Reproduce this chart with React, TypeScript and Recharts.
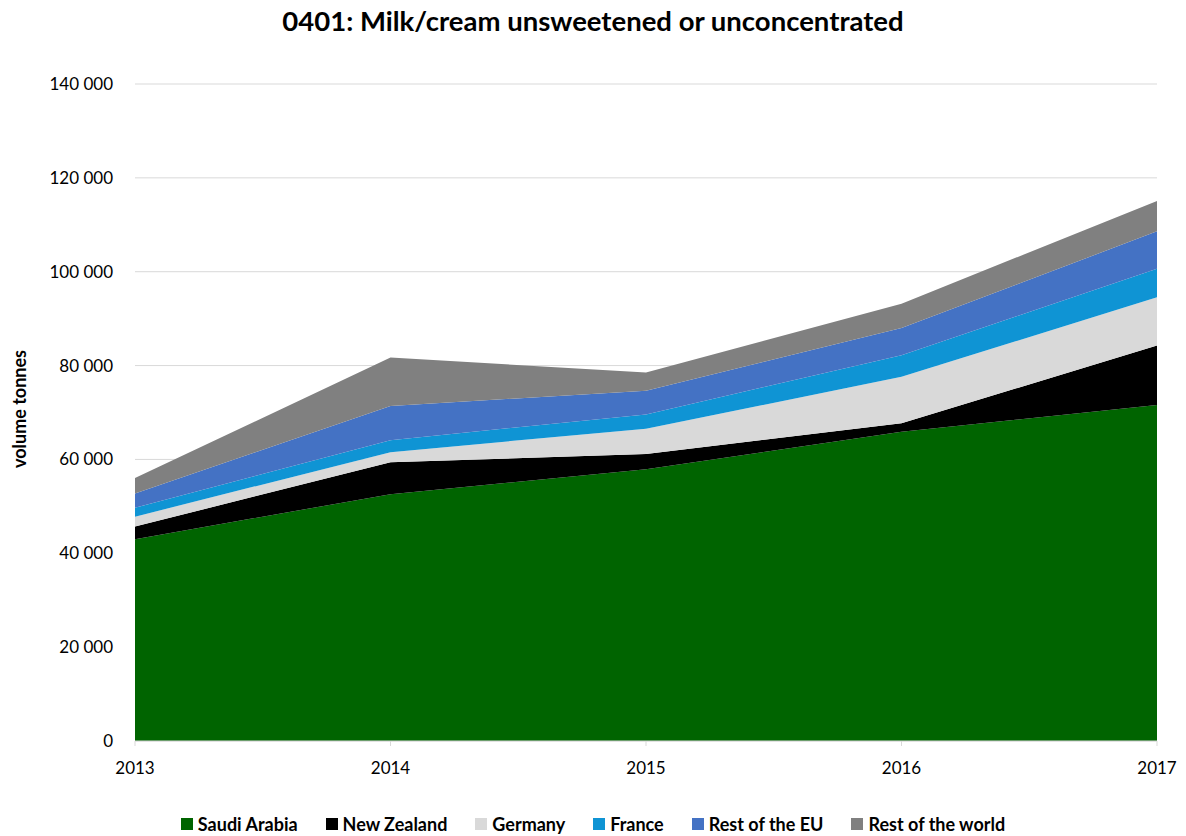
import React from 'react';
import {
  AreaChart,
  Area,
  XAxis,
  YAxis,
  CartesianGrid,
  Legend,
} from 'recharts';

const years = ['2013', '2014', '2015', '2016', '2017'];
const saudiArabia = [43000, 52600, 57900, 65900, 71600];
const newZealand = [2700, 6800, 3250, 1800, 12700];
const germany = [2100, 2150, 5400, 9900, 10250];
const france = [1900, 2550, 3050, 4600, 6100];
const restOfEU = [3050, 7300, 5050, 5800, 7950];
const restOfWorld = [3300, 10300, 3850, 5200, 6450];
const yTicks = [0, 20000, 40000, 60000, 80000, 100000, 120000, 140000];

const SERIES = [
  { key: 'sa', name: 'Saudi Arabia', values: saudiArabia, color: '#006400' },
  { key: 'nz', name: 'New Zealand', values: newZealand, color: '#000000' },
  { key: 'de', name: 'Germany', values: germany, color: '#d9d9d9' },
  { key: 'fr', name: 'France', values: france, color: '#0f94d4' },
  { key: 'eu', name: 'Rest of the EU', values: restOfEU, color: '#4472c4' },
  { key: 'rw', name: 'Rest of the world', values: restOfWorld, color: '#808080' },
];

const data = years.map((year, i) => {
  const row: Record<string, string | number> = { year };
  SERIES.forEach((s) => {
    row[s.key] = s.values[i];
  });
  return row;
});

const FONT = 'Lato, "DejaVu Sans", sans-serif';

const fmt = (v: number) =>
  String(v).replace(/\B(?=(\d{3})+(?!\d))/g, ' ');

const renderLegend = () => (
  <div
    style={{
      display: 'flex',
      justifyContent: 'center',
      gap: 28,
      fontFamily: FONT,
      fontWeight: 700,
      fontSize: 18,
      color: '#000',
      paddingTop: 4,
    }}
  >
    {SERIES.map((s) => (
      <div key={s.key} style={{ display: 'flex', alignItems: 'center' }}>
        <span
          style={{
            display: 'inline-block',
            width: 12,
            height: 12,
            background: s.color,
            marginRight: 5,
          }}
        />
        {s.name}
      </div>
    ))}
  </div>
);

export default function App() {
  return (
    <div
      style={{
        position: 'absolute',
        left: 0,
        top: 0,
        width: 1186,
        height: 836,
        background: '#fff',
      }}
    >
      <div
        style={{
          position: 'absolute',
          top: 4,
          left: 0,
          width: 1186,
          textAlign: 'center',
          fontFamily: FONT,
          fontWeight: 700,
          fontSize: 27.5,
          color: '#000',
        }}
      >
        0401: Milk/cream unsweetened or unconcentrated
      </div>
      <div
        style={{
          position: 'absolute',
          left: 19,
          top: 409,
          transform: 'translate(-50%, -50%) rotate(-90deg)',
          fontFamily: FONT,
          fontWeight: 700,
          fontSize: 18,
          whiteSpace: 'nowrap',
          color: '#000',
        }}
      >
        volume tonnes
      </div>
      <AreaChart
        width={1186}
        height={836}
        data={data}
        margin={{ top: 84, right: 29, bottom: 0, left: 65 }}
        style={{ position: 'absolute', left: 0, top: 0 }}
      >
        <CartesianGrid vertical={false} stroke="#d9d9d9" />
        <XAxis
          dataKey="year"
          stroke="#d9d9d9"
          tickLine={{ stroke: '#d9d9d9' }}
          tickSize={5}
          tick={{ fill: '#000', fontFamily: FONT, fontSize: 17, dy: 14 }}
          height={68}
        />
        <YAxis
          width={70}
          domain={[0, 140000]}
          ticks={yTicks}
          tickFormatter={fmt}
          axisLine={false}
          tickLine={false}
          tick={{ fill: '#000', fontFamily: FONT, fontSize: 17 }}
          tickMargin={16}
        />
        {SERIES.map((s) => (
          <Area
            key={s.key}
            type="linear"
            dataKey={s.key}
            name={s.name}
            stackId="1"
            stroke="none"
            fill={s.color}
            fillOpacity={1}
            isAnimationActive={false}
          />
        ))}
        <Legend
          verticalAlign="bottom"
          height={27}
          content={renderLegend}
          wrapperStyle={{ left: 0, width: 1186 }}
        />
      </AreaChart>
    </div>
  );
}
